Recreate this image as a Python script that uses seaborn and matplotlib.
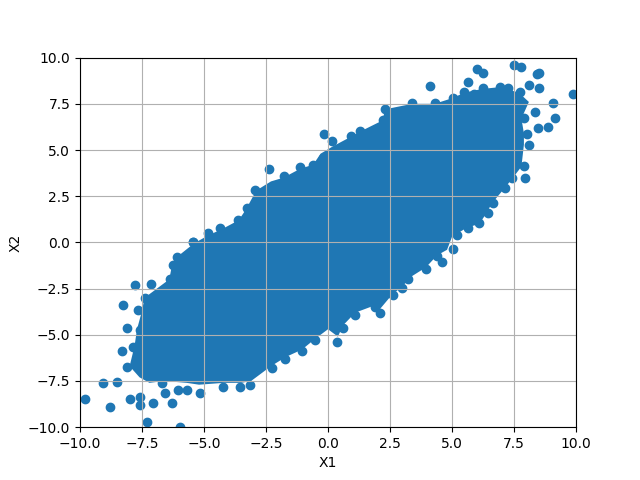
import numpy as np
import pandas as pd
import matplotlib
matplotlib.use("Agg")
import matplotlib.pyplot as plt
import seaborn as sns

# ── Data ─────────────────────────────────────────────────────────────────────
# Outline of the solid, fully overplotted core of the cloud (X1, X2)
core_x1 = [-7.5, -7.7, -7.8, -8.0, -7.6, -7.2, -6.6, -5.7, -5.2, -4.2,
           -3.5, -3.1, -2.3, -1.7, -1.05, -0.5, 0.0, 0.4, 0.6, 1.1,
           1.9, 2.1, 2.6, 3.0, 3.3, 3.95, 4.4, 4.8, 5.0, 5.6,
           6.1, 6.4, 6.6, 7.1, 7.4, 7.8, 7.9, 7.9, 7.8, 8.1,
           7.7, 7.2, 6.9, 6.2, 5.5, 5.0, 4.3, 3.4, 2.3, 2.2,
           1.3, 0.9, 0.2, -0.3, -0.6, -1.1, -1.8, -2.3, -2.9, -3.3,
           -3.6, -4.3, -4.8, -5.4, -6.1, -6.3, -6.4, -7.0, -7.4]
core_x2 = [-3.7, -4.7, -5.6, -6.7, -7.3, -7.6, -7.5, -7.6, -7.7, -7.6,
           -7.6, -7.5, -6.7, -6.2, -5.8, -5.2, -4.7, -5.1, -4.5, -3.8,
           -3.4, -3.6, -2.8, -2.4, -1.9, -1.35, -0.7, -0.4, 0.3, 0.8,
           1.0, 1.6, 2.1, 2.9, 3.4, 4.1, 5.3, 5.9, 6.7, 7.6,
           8.1, 8.3, 8.4, 8.3, 8.1, 7.8, 7.5, 7.5, 7.2, 6.6,
           6.0, 5.7, 5.2, 4.8, 4.2, 4.0, 3.5, 3.3, 2.8, 1.8,
           1.2, 0.7, 0.4, -0.05, -0.8, -1.3, -2.0, -2.6, -3.0]

# Individual points visible along the fringe of the cloud
edge_x1 = [-9.80, -8.80, -9.07, -7.30, -5.97, -7.06, -6.30, -6.57, -6.05, -7.78,
           -7.14, -8.27, -8.10, -8.30, -8.50, -7.98, -7.58, -7.58, -5.44, -6.10,
           -6.25, -6.37, -7.38, -7.66, -7.58, -7.86, -8.10, -5.16, -4.23, -3.55,
           -3.15, -2.26, -1.73, -1.05, -0.52, -5.69, -6.69, 0.36, 0.60, 1.09,
           2.10, 1.90, 2.62, 2.98, 3.23, 3.95, 4.60, 4.40, 5.04, 5.20,
           5.65, 6.09, 6.45, 6.65, 6.25, 7.14, 7.94, 7.90, 7.42, 8.10,
           8.02, 8.47, 8.87, 9.15, 9.07, 9.88, 8.35, 7.90, 8.50, 8.43,
           8.50, 7.50, 7.78, 6.00, 6.25, 5.65, 4.11, 5.48, 6.25, 6.94,
           7.26, 8.10, 7.74, 5.89, 5.04, 4.31, 3.39, 2.30, 2.22, 1.29,
           0.93, 0.16, -0.16, 0.60, -2.38, -1.77, -2.94, -3.27, -3.63, -4.35,
           -4.84, -5.44, -1.13, -0.60, -0.20]
edge_x2 = [-8.50, -8.90, -7.60, -9.70, -10.00, -8.70, -8.70, -8.15, -7.98, -2.30,
           -2.25, -3.39, -4.63, -5.90, -7.55, -8.50, -8.35, -8.80, 0.00, -0.80,
           -1.20, -1.98, -3.00, -3.66, -4.74, -5.65, -6.74, -8.15, -7.82, -7.82,
           -7.70, -6.80, -6.30, -5.90, -5.28, -7.98, -7.60, -5.39, -4.63, -3.93,
           -3.82, -3.50, -2.85, -2.47, -1.98, -1.44, -1.06, -0.74, -0.36, 0.40,
           0.78, 1.05, 1.59, 2.13, 2.08, 2.94, 3.48, 4.13, 3.48, 5.27,
           5.86, 6.19, 6.24, 6.73, 7.54, 8.03, 7.05, 6.73, 8.35, 9.11,
           9.17, 9.60, 9.50, 9.38, 9.17, 8.68, 8.46, 8.14, 8.35, 8.41,
           8.35, 8.52, 8.14, 8.03, 7.81, 7.54, 7.54, 7.21, 6.62, 6.03,
           5.76, 5.49, 5.86, 5.11, 3.97, 3.59, 2.84, 1.86, 1.20, 0.78,
           0.51, 0.02, 4.08, 4.19, 4.57]

df = pd.DataFrame({"X1": edge_x1, "X2": edge_x2})
color = "#1f77b4"

fig, ax = plt.subplots(figsize=(6.4, 4.8), dpi=100)
ax.fill(core_x1, core_x2, color=color, linewidth=0, zorder=1)
sns.scatterplot(data=df, x="X1", y="X2", ax=ax, color=color, s=36,
                linewidth=1.0, edgecolor=color, zorder=1)
ax.set_xlim(-10, 10)
ax.set_ylim(-10, 10)
ax.set_xlabel("X1")
ax.set_ylabel("X2")
ax.grid(True)
plt.savefig("out.png", dpi=100)
